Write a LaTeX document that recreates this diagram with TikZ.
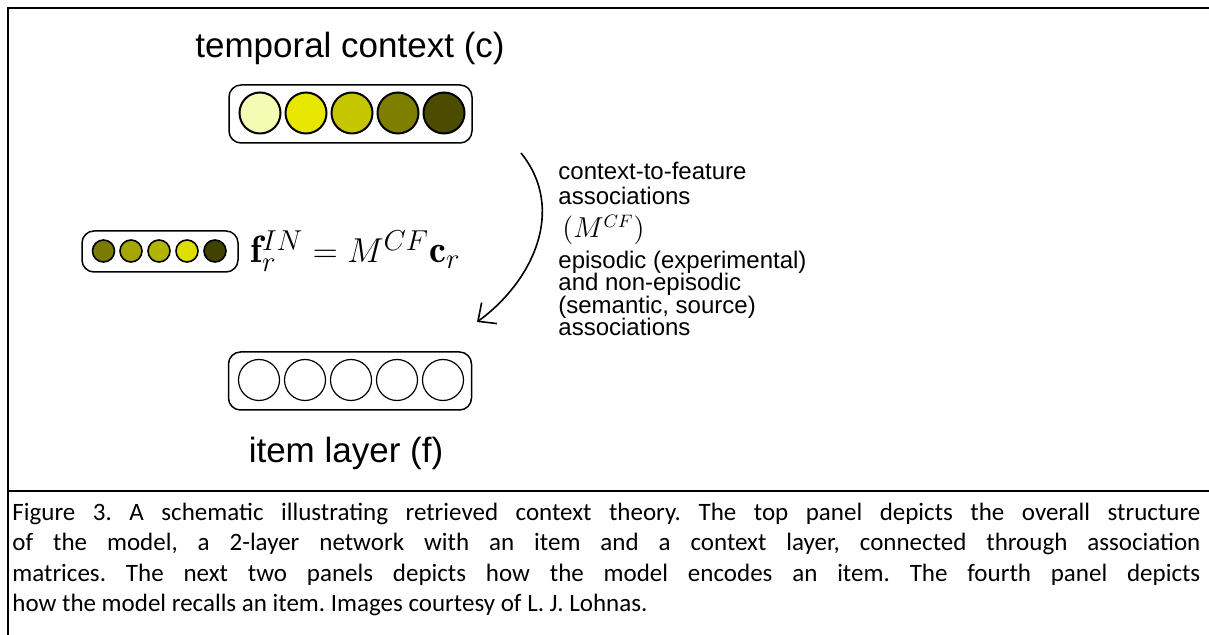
\documentclass[tikz,border=0pt]{standalone}
\usepackage{amsmath, amssymb}
\usepackage{fontspec}
\setsansfont{Liberation Sans}
\newfontfamily\capfont{Carlito}
\usepackage{tikz}
\usetikzlibrary{arrows.meta}
\definecolor{ctxA}{HTML}{F4FBB2}
\definecolor{ctxB}{HTML}{E6E600}
\definecolor{ctxC}{HTML}{C6C600}
\definecolor{ctxD}{HTML}{7E7E00}
\definecolor{ctxE}{HTML}{4C4C00}
\definecolor{inA}{HTML}{7A7A00}
\definecolor{inB}{HTML}{A6A600}
\definecolor{inC}{HTML}{B2B200}
\definecolor{inD}{HTML}{DEDE00}
\definecolor{inE}{HTML}{404000}
\tikzset{unit/.style={circle,draw,minimum size=20.5pt,inner sep=0pt,line width=1pt},
         empty/.style={circle,draw,minimum size=20.5pt,inner sep=0pt,line width=0.6pt},
         small/.style={circle,draw,minimum size=11pt,inner sep=0pt,line width=0.8pt},
         layer/.style={draw,rounded corners=6pt,minimum width=121.5pt,minimum height=29pt,line width=0.75pt},
         minilayer/.style={draw,rounded corners=6pt,minimum width=78pt,minimum height=20.5pt,line width=0.75pt},
         lab/.style={font=\sffamily\fontsize{17.5}{20}\selectfont},
         note/.style={font=\sffamily\fontsize{12}{11.25}\selectfont,align=left,inner sep=0pt,anchor=base west},
         frame/.style={line width=1.4pt}
         }

\begin{document}
\frenchspacing
\begin{tikzpicture}[x=0.5pt,y=-0.5pt]
        \useasboundingbox (0,0) rectangle (1209,635);
        % layers
        \node[layer] (ctx) at (350.5,114) {};
        \node[layer] (item) at (350,381) {};
        \node[minilayer] (fin) at (160,251.5) {};
        \node[lab] (ctxlab) at (350,48) {temporal context (c)};
        \node[lab] (itemlab) at (346,453) {item layer (f)};

        \node[unit, fill=ctxA] (c1) at (260,113) {};
        \node[unit, fill=ctxB] (c2) at (306,113) {};
        \node[unit, fill=ctxC] (c3) at (352,113) {};
        \node[unit, fill=ctxD] (c4) at (398,113) {};
        \node[unit, fill=ctxE] (c5) at (444,113) {};

        \node[empty] (f1) at (259,380) {};
        \node[empty] (f2) at (305,380) {};
        \node[empty] (f3) at (351,380) {};
        \node[empty] (f4) at (397,380) {};
        \node[empty] (f5) at (443,380) {};

        \node[small, fill=inA] (s1) at (103.5,251) {};
        \node[small, fill=inB] (s2) at (131,251) {};
        \node[small, fill=inC] (s3) at (159,251) {};
        \node[small, fill=inD] (s4) at (187,251) {};
        \node[small, fill=inE] (s5) at (215,251) {};

        \node[anchor=base west, inner sep=0pt, font=\fontsize{19}{22}\selectfont] (eq) at (250,263)
            {$\mathbf{f}_r^{IN} = M^{CF}\mathbf{c}_r$};

        % association arrow
        \coordinate (arrS) at (521,153);
        \coordinate (arrE) at (477,322);
        \draw[line width=0.8pt, -{Straight Barb[length=7pt,width=13pt]}]
            (arrS) .. controls (567,210) and (532,282) .. (arrE);

        % last line of each note sits on the given baseline
        \node[note, font=\sffamily\fontsize{12}{12.5}\selectfont] (cf) at (558,205) {context-to-feature\\associations};
        \node[note, font=\fontsize{13.5}{15}\selectfont] (mcf) at (562,238) {$(M^{CF})$};
        \node[note] (kinds) at (558,336) {episodic (experimental)\\and non-episodic\\(semantic, source)\\associations};

        % frame and caption
        \draw[frame] (1209,8) -- (8,8) -- (8,635);
        \draw[frame] (8,491) -- (1209,491);
        \node[anchor=base west, inner sep=0pt, text width=594pt, align=justify,
              font=\capfont\fontsize{12.5}{15.25}\selectfont] (cap) at (12,520)
            {Figure 3. A schematic illustrating retrieved context theory. The top panel depicts the overall structure\linebreak
             of the model, a 2-layer network with an item and a context layer, connected through association\linebreak
             matrices. The next two panels depicts how the model encodes an item. The fourth panel depicts\linebreak
             how the model recalls an item. Images courtesy of L. J. Lohnas.};
\end{tikzpicture}
\end{document}
